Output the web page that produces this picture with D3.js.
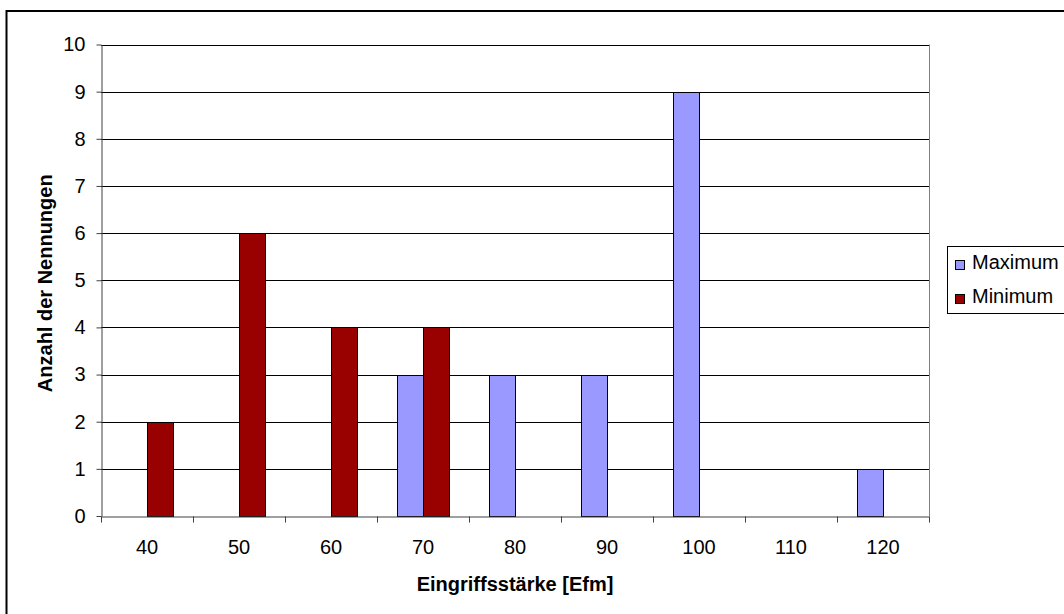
<!DOCTYPE html>
<html>
<head>
<meta charset="utf-8">
<script src="https://cdn.jsdelivr.net/npm/d3@7"></script>
<style>
  body { margin: 0; background: #fff; }
  svg text { font-family: "Liberation Sans", Arial, sans-serif; fill: #000; }
</style>
</head>
<body>
<div id="chart"></div>
<script>
// chart data
const categories = ["40", "50", "60", "70", "80", "90", "100", "110", "120"]
const seriesNames = ["Maximum", "Minimum"]
const maximumValues = [0, 0, 0, 3, 3, 3, 9, 0, 1]
const minimumValues = [2, 6, 4, 4, 0, 0, 0, 0, 0]
const yTicks = [0, 1, 2, 3, 4, 5, 6, 7, 8, 9, 10]
const seriesColors = ["#9999ff", "#990000"]

const width = 1064, height = 614
const plot = { left: 101, right: 929, top: 44.5, bottom: 516 }
const fontSize = "20px"

let svg = d3.select("#chart")
  .append("svg")
  .attr("width", width)
  .attr("height", height)

// outer frame (runs off the right and bottom edges)
svg.append("rect")
  .attr("x", 6.5)
  .attr("y", 11)
  .attr("width", 1100)
  .attr("height", 700)
  .attr("fill", "#fff")
  .attr("stroke", "#000")
  .attr("stroke-width", 2)

let x = d3.scaleBand()
  .domain(categories)
  .range([plot.left, plot.right])

let xs = d3.scaleBand()
  .domain(seriesNames)
  .range([0, x.bandwidth()])
  .paddingInner(0)
  .paddingOuter(0.75)

let y = d3.scaleLinear()
  .domain([0, 10])
  .range([plot.bottom, plot.top])

// gridlines
svg.append("g")
  .selectAll("line")
  .data(yTicks.slice(1))
  .join("line")
  .attr("x1", plot.left)
  .attr("x2", plot.right)
  .attr("y1", d => Math.round(y(d)) + 0.5)
  .attr("y2", d => Math.round(y(d)) + 0.5)
  .attr("stroke", "#000")
  .attr("stroke-width", 1)

// right edge of plot
svg.append("line")
  .attr("x1", plot.right + 0.5).attr("x2", plot.right + 0.5)
  .attr("y1", plot.top).attr("y2", plot.bottom)
  .attr("stroke", "#808080")

// bars
let rows = categories.map((c, i) => ({ cat: c, values: [maximumValues[i], minimumValues[i]] }))
svg.append("g")
  .selectAll("g")
  .data(rows)
  .join("g")
  .attr("transform", d => `translate(${x(d.cat)},0)`)
  .selectAll("rect")
  .data(d => d.values.map((v, j) => ({ name: seriesNames[j], value: v, color: seriesColors[j] })))
  .join("rect")
  .filter(d => d.value > 0)
  .attr("x", d => Math.round(xs(d.name)) + 0.5)
  .attr("y", d => Math.round(y(d.value)) + 0.5)
  .attr("width", Math.round(xs.bandwidth()))
  .attr("height", d => Math.round(y(0)) - Math.round(y(d.value)))
  .attr("fill", d => d.color)
  .attr("stroke", "#000")
  .attr("stroke-width", 1)

// y axis
let yAxis = svg.append("g")
  .attr("transform", `translate(${plot.left + 0.5},0)`)
  .call(d3.axisLeft(y).tickValues(yTicks).tickSize(5).tickPadding(11).tickSizeOuter(0))
yAxis.selectAll("text").style("font-size", fontSize)
yAxis.selectAll("line, path").attr("stroke", "#404040")

// x axis
let xAxis = svg.append("g")
  .attr("transform", `translate(0,${plot.bottom + 0.5})`)
  .call(d3.axisBottom(x).tickSize(0).tickPadding(23).tickSizeOuter(0))
xAxis.selectAll("text").style("font-size", fontSize)
xAxis.select("path").attr("stroke", "#404040")
xAxis.selectAll(".sep")
  .data(d3.range(categories.length + 1))
  .join("line")
  .attr("class", "sep")
  .attr("x1", i => Math.round(plot.left + i * x.step()) + 0.5)
  .attr("x2", i => Math.round(plot.left + i * x.step()) + 0.5)
  .attr("y1", 0)
  .attr("y2", 6)
  .attr("stroke", "#404040")

// axis titles
svg.append("text")
  .attr("x", (plot.left + plot.right) / 2)
  .attr("y", 591)
  .attr("text-anchor", "middle")
  .style("font-size", fontSize)
  .style("font-weight", "bold")
  .text("Eingriffsstärke [Efm]")

svg.append("text")
  .attr("transform", `translate(52,${(plot.top + plot.bottom) / 2 + 3}) rotate(-90)`)
  .attr("text-anchor", "middle")
  .style("font-size", fontSize)
  .style("font-weight", "bold")
  .text("Anzahl der Nennungen")

// legend
let legend = svg.append("g")
legend.append("rect")
  .attr("x", 947.5)
  .attr("y", 246.5)
  .attr("width", 200)
  .attr("height", 67)
  .attr("fill", "#fff")
  .attr("stroke", "#000")
let items = legend.selectAll("g")
  .data(seriesNames)
  .join("g")
  .attr("transform", (d, i) => `translate(955,${260 + i * 34})`)
items.append("rect")
  .attr("x", 0.5).attr("y", 0.5)
  .attr("width", 9).attr("height", 9)
  .attr("fill", (d, i) => seriesColors[i])
  .attr("stroke", "#000")
items.append("text")
  .attr("x", 17)
  .attr("y", 9)
  .style("font-size", fontSize)
  .text(d => d)
</script>
</body>
</html>
